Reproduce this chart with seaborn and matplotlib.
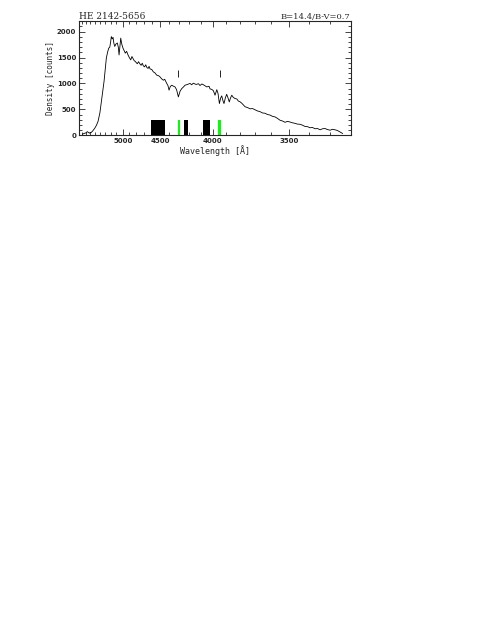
import numpy as np
import pandas as pd
import seaborn as sns
import matplotlib
matplotlib.use('Agg')
import matplotlib.pyplot as plt
from matplotlib.ticker import MultipleLocator, FixedLocator

# spectrum (wavelength in A, density in counts)
wave = [5780, 5740, 5700, 5665, 5649, 5620, 5600, 5583, 5550, 5504, 5470, 5437,
        5400, 5371, 5345, 5320, 5300, 5277, 5255, 5234, 5215, 5200, 5188, 5172,
        5158, 5145, 5129, 5110, 5086, 5070, 5058, 5045, 5031, 5015, 4995, 4980,
        4960, 4940, 4919, 4900, 4879, 4862, 4846, 4830, 4814, 4800, 4786, 4770,
        4750, 4735, 4720, 4706, 4690, 4675, 4662, 4645, 4633, 4621, 4600, 4581,
        4565, 4541, 4520, 4502, 4485, 4465, 4450, 4428, 4415, 4403, 4390, 4375,
        4360, 4341, 4325, 4307, 4290, 4274, 4258, 4242, 4220, 4195, 4180, 4165,
        4140, 4120, 4106, 4090, 4077, 4060, 4049, 4030, 4022, 4008, 3995, 3982,
        3968, 3958, 3948, 3938, 3930, 3920, 3913, 3903, 3893, 3883, 3874, 3865,
        3856, 3845, 3833, 3820, 3810, 3800, 3787, 3775, 3764, 3748, 3731, 3715,
        3699, 3685, 3668, 3653, 3638, 3623, 3608, 3594, 3579, 3565, 3551, 3537,
        3523, 3510, 3496, 3483, 3470, 3457, 3444, 3432, 3419, 3406, 3394, 3382,
        3370, 3358, 3346, 3335, 3323, 3312, 3300, 3290, 3278, 3270, 3264, 3255,
        3245]
dens = [20, 35, 45, 70, 60, 40, 55, 50, 80, 135, 190, 265,
        430, 650, 850, 1037, 1250, 1490, 1600, 1680, 1700, 1800, 1905, 1860,
        1890, 1780, 1715, 1760, 1780, 1700, 1550, 1700, 1875, 1760, 1680, 1640,
        1585, 1620, 1550, 1500, 1455, 1520, 1480, 1440, 1425, 1400, 1380, 1420,
        1375, 1350, 1390, 1340, 1320, 1360, 1310, 1290, 1330, 1280, 1270, 1223,
        1210, 1160, 1150, 1125, 1090, 1062, 1080, 1000, 960, 870, 940, 966,
        950, 933, 880, 740, 850, 900, 930, 966, 980, 1000, 975, 1005,
        980, 995, 960, 990, 975, 950, 933, 945, 895, 885, 860, 773,
        880, 800, 612, 720, 760, 660, 612, 720, 790, 720, 643, 720,
        773, 730, 709, 700, 660, 650, 620, 585, 550, 535, 510, 515,
        490, 470, 455, 430, 425, 400, 390, 365, 354, 325, 290, 275,
        250, 268, 255, 240, 230, 215, 212, 195, 170, 165, 145, 150,
        125, 130, 105, 125, 130, 110, 97, 115, 105, 95, 83, 60,
        33]

# filter bands at the bottom
bar_lo = [4446, 4286, 4218, 4026, 3932]
bar_hi = [4609, 4315, 4254, 4080, 3961]
bar_col = ['black', '#00ff00', 'black', 'black', '#00ff00']
bar_top = 300

# line markers (G band, Ca K)
mark_wave = [4307, 3945]
mark_lo, mark_hi = 1130, 1250

xlim = (5863, 3211)
xticks = [5000, 4500, 4000, 3500]

df = pd.DataFrame({'wave': wave, 'dens': dens})

sns.set_style('ticks')
plt.rcParams['font.family'] = ['DejaVu Serif']

fig = plt.figure(figsize=(4.91, 6.35), dpi=100)
ax = fig.add_axes([0.161, 0.787, 0.5534, 0.1795])

# prism spectra: roughly linear in 1/lambda^2
ax.set_xscale('function', functions=(lambda w: 1e8 / np.asarray(w, float)**2,
                                     lambda u: 1e4 / np.sqrt(np.asarray(u, float))))

sns.lineplot(data=df, x='wave', y='dens', color='black', lw=0.6, ax=ax, sort=False)

for lo, hi, c in zip(bar_lo, bar_hi, bar_col):
    ax.bar(lo, bar_top, width=hi - lo, align='edge', color=c, edgecolor='none')

ax.vlines(mark_wave, mark_lo, mark_hi, color='black', lw=0.6)

ax.set_xlim(*xlim)
ax.invert_xaxis()
ax.set_ylim(0, 2200)
ax.xaxis.set_major_locator(FixedLocator(xticks))
ax.xaxis.set_minor_locator(MultipleLocator(100))
ax.yaxis.set_major_locator(MultipleLocator(500))
ax.yaxis.set_minor_locator(MultipleLocator(100))
ax.tick_params(which='both', direction='in', top=True, right=True, width=0.6,
               labelsize=5.5, pad=2)
ax.tick_params(which='major', length=4)
ax.tick_params(which='minor', length=2)
for lab in ax.get_xticklabels() + ax.get_yticklabels():
    lab.set_family('DejaVu Sans')
    lab.set_fontweight('bold')
    lab.set_fontsize(5)
for s in ax.spines.values():
    s.set_linewidth(0.8)

ax.set_xlabel('Wavelength [Å]', fontsize=6, labelpad=1, family='DejaVu Sans Mono')
ax.set_ylabel('Density [counts]', fontsize=5.5, labelpad=1, family='DejaVu Sans Mono')
ax.set_title('HE 2142-5656', loc='left', fontsize=6.5, pad=1.5)
ax.set_title('B=14.4/B-V=0.7', loc='right', fontsize=6, pad=1.5)

fig.savefig('out.png', dpi=100)
